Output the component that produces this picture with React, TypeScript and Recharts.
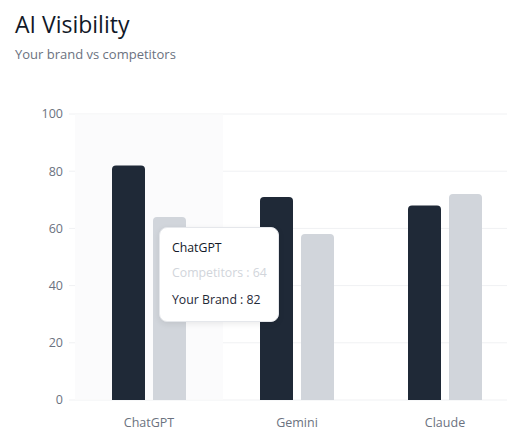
import React from "react";
import { BarChart, Bar, XAxis, YAxis, CartesianGrid, Tooltip } from "recharts";

const categories = ["ChatGPT", "Gemini", "Claude"];
const yourBrand = [82, 71, 68];
const competitors = [64, 58, 72];
const yTicks = [0, 20, 40, 60, 80, 100];

const data = categories.map((name, i) => ({
  name,
  "Your Brand": yourBrand[i],
  Competitors: competitors[i],
}));

const FONT = '"Segoe UI", "Open Sans", sans-serif';

export default function App() {
  return (
    <div
      style={{
        position: "fixed",
        left: 0,
        top: 0,
        width: 507,
        height: 445,
        overflow: "hidden",
        fontFamily: FONT,
        background: "#ffffff",
      }}
    >
      <div style={{ position: "absolute", left: 15, top: 8, fontSize: 23, color: "#111827", lineHeight: "32px" }}>
        AI Visibility
      </div>
      <div style={{ position: "absolute", left: 15, top: 44, fontSize: 13, color: "#6b7280", lineHeight: "20px" }}>
        Your brand vs competitors
      </div>
      <div style={{ position: "absolute", left: 8, top: 104 }}>
        <BarChart
          width={511}
          height={341}
          data={data}
          margin={{ top: 10, right: 0, left: 0, bottom: 0 }}
          barCategoryGap="25%"
          barGap={8}
        >
          <CartesianGrid vertical={false} stroke="#f0f1f3" />
          <XAxis
            dataKey="name"
            axisLine={false}
            tickLine={false}
            tickMargin={12}
            height={45}
            tick={{ fill: "#6b7280", fontSize: 12.5, fontFamily: FONT }}
          />
          <YAxis
            width={67}
            domain={[0, 100]}
            ticks={yTicks}
            axisLine={false}
            tickLine={{ stroke: "#f0f1f3" }}
            tickMargin={6}
            tick={{ fill: "#6b7280", fontSize: 12.5, fontFamily: FONT }}
          />
          <Tooltip
            defaultIndex={0}
            position={{ x: 151, y: 123 }}
            cursor={{ fill: "#fbfbfc" }}
            contentStyle={{
              borderRadius: 8,
              border: "1px solid #e5e7eb",
              boxShadow: "0 2px 6px rgba(0,0,0,0.08)",
              padding: "11px 11px 8px 12px",
              fontSize: 12.3,
              fontFamily: FONT,
            }}
            labelStyle={{ color: "#111827", marginBottom: 3 }}
            itemStyle={{ paddingTop: 5, paddingBottom: 5 }}
          />
          <Bar dataKey="Your Brand" fill="#1f2937" radius={[4, 4, 0, 0]} isAnimationActive={false} />
          <Bar dataKey="Competitors" fill="#d1d5db" radius={[4, 4, 0, 0]} isAnimationActive={false} />
        </BarChart>
      </div>
    </div>
  );
}
